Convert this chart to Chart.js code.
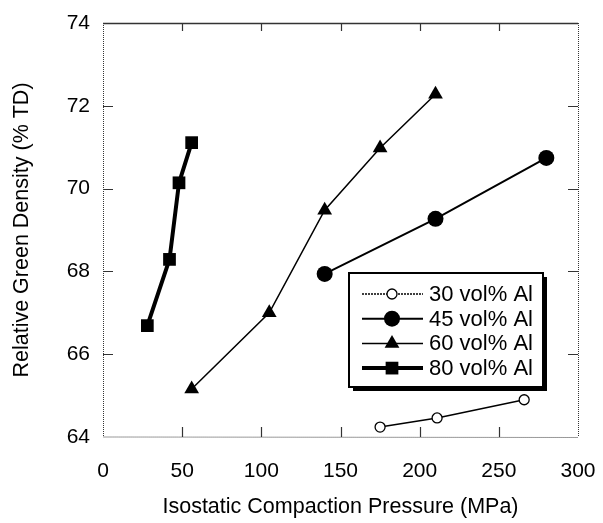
<!DOCTYPE html>
<html>
<head>
<meta charset="utf-8">
<script src="https://cdn.jsdelivr.net/npm/chart.js@4.4.0/dist/chart.umd.min.js"></script>
<style>
  html, body { margin: 0; padding: 0; background: #fff; }
  #wrap { width: 603px; height: 523px; }
</style>
</head>
<body>
<div id="wrap"><canvas id="chart" width="603" height="523"></canvas></div>
<script>
// Data
const pressure30 = [175, 211, 266];
const density30 = [64.24, 64.46, 64.9];

const pressure45 = [140, 210, 280];
const density45 = [67.94, 69.27, 70.74];

const pressure60 = [56, 105, 140, 175, 210];
const density60 = [65.16, 67.0, 69.48, 70.98, 72.28];

const pressure80 = [28, 42, 48, 56];
const density80 = [66.69, 68.29, 70.14, 71.11];

const xTicks = [0, 50, 100, 150, 200, 250, 300];
const yTicks = [64, 66, 68, 70, 72, 74];

const FONT = "'Liberation Sans', Arial, Helvetica, sans-serif";

function toPoints(xs, ys) {
  return xs.map((x, i) => ({ x: x, y: ys[i] }));
}

function makeSet(label, xs, ys, style) {
  return Object.assign({
    label: label,
    data: toPoints(xs, ys),
    showLine: true,
    borderColor: "#000",
    pointBorderColor: "#000",
    pointBackgroundColor: "#000",
    tension: 0,
    clip: false
  }, style);
}

const datasets = [
  makeSet("30 vol% Al", pressure30, density30, {
    borderWidth: 1.5, pointStyle: "circle", pointRadius: 5,
    pointBackgroundColor: "#fff", pointBorderWidth: 1.3
  }),
  makeSet("45 vol% Al", pressure45, density45, {
    borderWidth: 2, pointStyle: "circle", pointRadius: 8, pointBorderWidth: 0
  }),
  makeSet("60 vol% Al", pressure60, density60, {
    borderWidth: 1.5, pointStyle: "triangle", pointRadius: 8.5, pointBorderWidth: 0
  }),
  makeSet("80 vol% Al", pressure80, density80, {
    borderWidth: 4, pointStyle: "rect", pointRadius: 9, pointBorderWidth: 0
  })
];

// frame, inward ticks and boxed legend
const framePlugin = {
  id: "frame",
  beforeDatasetsDraw(chart) {
    const { ctx, chartArea: a, scales } = chart;
    ctx.save();
    ctx.strokeStyle = "#333";
    // top border solid
    ctx.beginPath();
    ctx.moveTo(a.left, a.top + 0.5);
    ctx.lineTo(a.right, a.top + 0.5);
    ctx.lineWidth = 1.5;
    ctx.stroke();
    // other borders dotted
    ctx.lineWidth = 1;
    ctx.setLineDash([1, 1]);
    ctx.beginPath();
    ctx.moveTo(a.left + 0.5, a.top);
    ctx.lineTo(a.left + 0.5, a.bottom);
    ctx.lineTo(a.right, a.bottom + 0.5);
    ctx.moveTo(a.right + 0.5, a.top);
    ctx.lineTo(a.right + 0.5, a.bottom);
    ctx.stroke();
    ctx.setLineDash([]);
    ctx.lineWidth = 1.2;
    ctx.beginPath();
    xTicks.slice(1, -1).forEach(v => {
      const px = Math.round(scales.x.getPixelForValue(v)) + 0.5;
      ctx.moveTo(px, a.bottom);
      ctx.lineTo(px, a.bottom - 10);
      ctx.moveTo(px, a.top);
      ctx.lineTo(px, a.top + 8);
    });
    yTicks.slice(1, -1).forEach(v => {
      const py = Math.round(scales.y.getPixelForValue(v)) + 0.5;
      ctx.moveTo(a.left, py);
      ctx.lineTo(a.left + 10, py);
      ctx.moveTo(a.right, py);
      ctx.lineTo(a.right - 10, py);
    });
    ctx.stroke();
    ctx.restore();
  },
  afterDatasetsDraw(chart) {
    const ctx = chart.ctx;
    const box = { x: 349, y: 273, w: 194, h: 114 };
    ctx.save();
    // shadow
    ctx.fillStyle = "#000";
    ctx.fillRect(box.x + 4, box.y + 4, box.w, box.h);
    ctx.fillStyle = "#fff";
    ctx.fillRect(box.x, box.y, box.w, box.h);
    ctx.strokeStyle = "#000";
    ctx.lineWidth = 2;
    ctx.strokeRect(box.x, box.y, box.w, box.h);

    ctx.font = "22px " + FONT;
    ctx.textBaseline = "middle";
    ctx.textAlign = "left";
    chart.data.datasets.forEach((ds, i) => {
      const y = box.y + 21 + i * 24.7;
      ctx.strokeStyle = "#000";
      ctx.lineWidth = ds.borderWidth;
      if (i === 0) ctx.setLineDash([2, 1]);
      ctx.beginPath();
      ctx.moveTo(box.x + 13, y);
      ctx.lineTo(box.x + 74, y);
      ctx.stroke();
      ctx.setLineDash([]);
      ctx.fillStyle = ds.pointBackgroundColor;
      ctx.lineWidth = ds.pointBorderWidth;
      Chart.helpers.drawPoint(ctx, {
        pointStyle: ds.pointStyle,
        radius: ds.pointRadius,
        borderWidth: ds.pointBorderWidth,
        rotation: 0
      }, box.x + 43, y);
      ctx.fillStyle = "#000";
      ctx.fillText(ds.label, box.x + 80, y + 1);
    });
    ctx.restore();
  }
};

new Chart(document.getElementById("chart"), {
  type: "scatter",
  data: { datasets: datasets },
  options: {
    responsive: false,
    animation: false,
    layout: { padding: { top: 23, right: 25, left: 0, bottom: 0 } },
    plugins: {
      legend: { display: false },
      tooltip: { enabled: false }
    },
    scales: {
      x: {
        type: "linear",
        min: 0,
        max: 300,
        afterFit: (s) => { s.height = 86; },
        afterBuildTicks: (s) => { s.ticks = xTicks.map(v => ({ value: v })); },
        // ticks themselves are drawn by the plugin; tickLength only spaces the labels
        grid: { display: false, drawTicks: true, tickLength: 19 },
        border: { display: false },
        ticks: {
          color: "#000",
          padding: 3,
          maxRotation: 0,
          font: { family: FONT, size: 21 }
        },
        title: {
          display: true,
          text: "Isostatic Compaction Pressure (MPa)",
          color: "#000",
          padding: { bottom: 3 },
          font: { family: FONT, size: 21.5 }
        }
      },
      y: {
        type: "linear",
        min: 64,
        max: 74,
        afterFit: (s) => { s.width = 103; },
        afterBuildTicks: (s) => { s.ticks = yTicks.map(v => ({ value: v })); },
        grid: { display: false, drawTicks: true, tickLength: 10 },
        border: { display: false },
        ticks: {
          color: "#000",
          padding: 3,
          font: { family: FONT, size: 21 }
        },
        title: {
          display: true,
          text: "Relative Green Density (% TD)",
          color: "#000",
          padding: { top: 9 },
          font: { family: FONT, size: 21.5 }
        }
      }
    }
  },
  plugins: [framePlugin]
});
</script>
</body>
</html>
